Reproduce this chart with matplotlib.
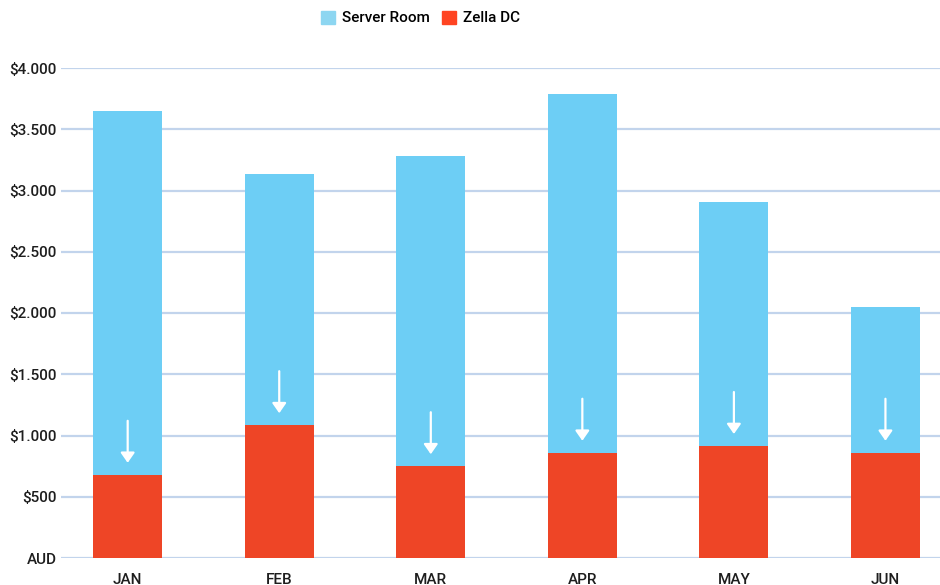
import numpy as np
import matplotlib
matplotlib.use("Agg")
import matplotlib.pyplot as plt
from matplotlib.patches import Patch

months = ["JAN", "FEB", "MAR", "APR", "MAY", "JUN"]
server_room = [3650, 3135, 3285, 3790, 2905, 2050]
zella_dc = [680, 1085, 750, 860, 915, 860]
yticks = [0, 500, 1000, 1500, 2000, 2500, 3000, 3500, 4000]
ytick_labels = ["AUD", "$500", "$1.000", "$1.500", "$2.000",
                "$2.500", "$3.000", "$3.500", "$4.000"]

BLUE = "#6dcef5"
RED = "#ee4526"
GRID = "#c2d4ec"
TXT = "#1e1e1e"

plt.rcParams["font.family"] = ["Roboto", "DejaVu Sans"]
plt.rcParams["font.weight"] = 500

W, H = 940, 585
fig = plt.figure(figsize=(W / 100, H / 100), dpi=100)
# axes box in pixels: left 61, right 940, bottom 558, top 68
ax = fig.add_axes([61 / W, (H - 558) / H, (940 - 61) / W, (558 - 68) / H])

x = np.arange(len(months))
w = 0.455
ax.bar(x, server_room, w, color=BLUE, zorder=2)
ax.bar(x, zella_dc, w, color=RED, zorder=3)

# white arrows pointing down to the Zella DC level
for xi, v in zip(x, zella_dc):
    ax.annotate("", xy=(xi, v + 97), xytext=(xi, v + 440),
                arrowprops=dict(arrowstyle="-|>,head_width=0.42,head_length=0.6",
                                color="white", lw=1.6, shrinkA=0, shrinkB=0),
                zorder=4)

ax.set_xlim(-0.44, 5.36)
ax.set_ylim(0, 4000)
ax.set_yticks(yticks)
ax.set_yticklabels(ytick_labels)
ax.set_xticks(x)
ax.set_xticklabels(months)
ax.tick_params(axis="both", length=0, labelsize=11, colors=TXT)
ax.tick_params(axis="y", pad=3)
ax.tick_params(axis="x", pad=11)
ax.grid(axis="y", color=GRID, lw=1.6, zorder=0)
ax.set_axisbelow(True)
for s in ax.spines.values():
    s.set_visible(False)

handles = [Patch(color="#8dd6f1", label="Server Room"),
           Patch(color="#ff4422", label="Zella DC")]
fig.legend(handles=handles, loc="center left", ncol=2, frameon=False,
           bbox_to_anchor=(321 / W, 1 - 18 / H), fontsize=11,
           handlelength=0.92, handleheight=0.92, handletextpad=0.45,
           columnspacing=0.8, borderpad=0, borderaxespad=0)

fig.savefig("out.png", dpi=100)
